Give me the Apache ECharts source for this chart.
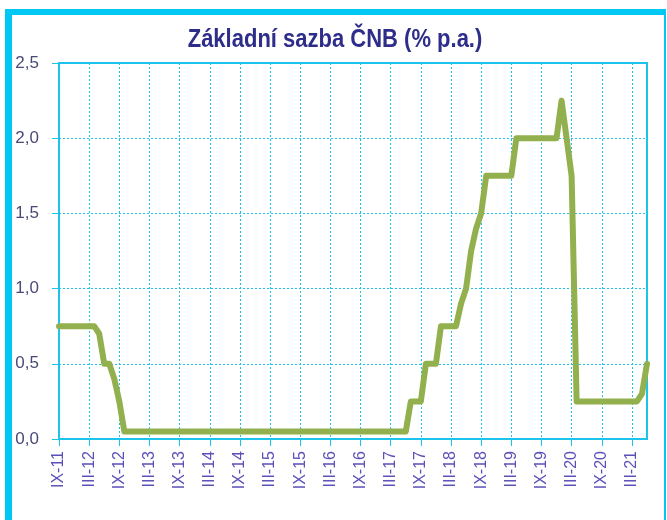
<!DOCTYPE html>
<html>
<head>
<meta charset="utf-8">
<script src="https://cdn.jsdelivr.net/npm/echarts@6/dist/echarts.min.js"></script>
<style>
  html, body { margin: 0; padding: 0; background: #fff; }
  #frame {
    position: absolute; left: 5px; top: 9px; width: 652px; height: 520px;
    border-left: 7px solid #00c8f4; border-top: 6px solid #00c8f4; border-right: 2px solid #00c8f4;
  }
  #chart { position: absolute; left: 0; top: 0; width: 667px; height: 520px; }
</style>
</head>
<body>
<div id="frame"></div>
<div id="chart"></div>
<script>
// osa x: mesice od IX-2011 do VI-2021, popisek kazdych 6 mesicu
var roman = ['I', 'II', 'III', 'IV', 'V', 'VI', 'VII', 'VIII', 'IX', 'X', 'XI', 'XII'];
var months = [];
for (var k = 0; k < 118; k++) {
  var m = (8 + k) % 12;
  var y = 11 + Math.floor((8 + k) / 12);
  months.push(roman[m] + '-' + y);
}

// zakladni sazba CNB (% p.a.), mesicni hodnoty
var sazba = [
  0.75, 0.75, 0.75, 0.75, 0.75, 0.75, 0.75, 0.75, 0.7, 0.5,
  0.5, 0.4, 0.25, 0.05, 0.05, 0.05, 0.05, 0.05, 0.05, 0.05,
  0.05, 0.05, 0.05, 0.05, 0.05, 0.05, 0.05, 0.05, 0.05, 0.05,
  0.05, 0.05, 0.05, 0.05, 0.05, 0.05, 0.05, 0.05, 0.05, 0.05,
  0.05, 0.05, 0.05, 0.05, 0.05, 0.05, 0.05, 0.05, 0.05, 0.05,
  0.05, 0.05, 0.05, 0.05, 0.05, 0.05, 0.05, 0.05, 0.05, 0.05,
  0.05, 0.05, 0.05, 0.05, 0.05, 0.05, 0.05, 0.05, 0.05, 0.05,
  0.25, 0.25, 0.25, 0.5, 0.5, 0.5, 0.75, 0.75, 0.75, 0.75,
  0.9, 1.0, 1.25, 1.4, 1.5, 1.75, 1.75, 1.75, 1.75, 1.75,
  1.75, 2.0, 2.0, 2.0, 2.0, 2.0, 2.0, 2.0, 2.0, 2.0,
  2.25, 2.0, 1.75, 0.25, 0.25, 0.25, 0.25, 0.25, 0.25, 0.25,
  0.25, 0.25, 0.25, 0.25, 0.25, 0.25, 0.3, 0.5
];

var titulek = 'Základní sazba ČNB (% p.a.)';

var cyan = '#1cc3ec';
var chart = echarts.init(document.getElementById('chart'), null, { renderer: 'canvas' });

var option = {
  animation: false,
  // titulek je uzsi nez bezne pismo, proto graphic se scaleX
  graphic: [{
    type: 'text',
    x: 335, y: 53,
    scaleX: 0.88,
    style: {
      text: titulek,
      font: 'bold 25px "Liberation Sans", Arial, sans-serif',
      fill: '#2e2e8a',
      textAlign: 'center',
      textVerticalAlign: 'bottom'
    }
  }],
  grid: {
    left: 59, top: 63, right: 20, bottom: 81,
    show: true, borderColor: cyan, borderWidth: 2
  },
  xAxis: {
    type: 'category',
    boundaryGap: false,
    data: months,
    axisLine: { lineStyle: { color: cyan, width: 2 } },
    axisTick: { interval: 5, length: 7, lineStyle: { color: cyan, width: 1 } },
    axisLabel: {
      interval: 5, rotate: 90, margin: 12,
      fontFamily: '"Liberation Sans", Arial, sans-serif',
      fontSize: 16, color: '#5a50b8'
    },
    splitLine: { show: true, interval: 5, lineStyle: { color: cyan, type: [2, 2], width: 1 } }
  },
  yAxis: {
    type: 'value',
    min: 0, max: 2.5, interval: 0.5,
    axisLine: { show: true, lineStyle: { color: cyan, width: 2 } },
    axisTick: { show: true, length: 7, lineStyle: { color: cyan, width: 1 } },
    axisLabel: {
      margin: 20,
      fontFamily: '"Liberation Sans", Arial, sans-serif',
      fontSize: 17, color: '#4a4a78',
      formatter: function (v) { return v.toFixed(1).replace('.', ','); }
    },
    splitLine: { show: true, lineStyle: { color: cyan, type: [2, 2], width: 1 } }
  },
  series: [{
    type: 'line',
    data: sazba,
    symbol: 'none',
    lineStyle: { color: '#92b04e', width: 6, join: 'round', cap: 'round' }
  }]
};

chart.setOption(option);
</script>
</body>
</html>
